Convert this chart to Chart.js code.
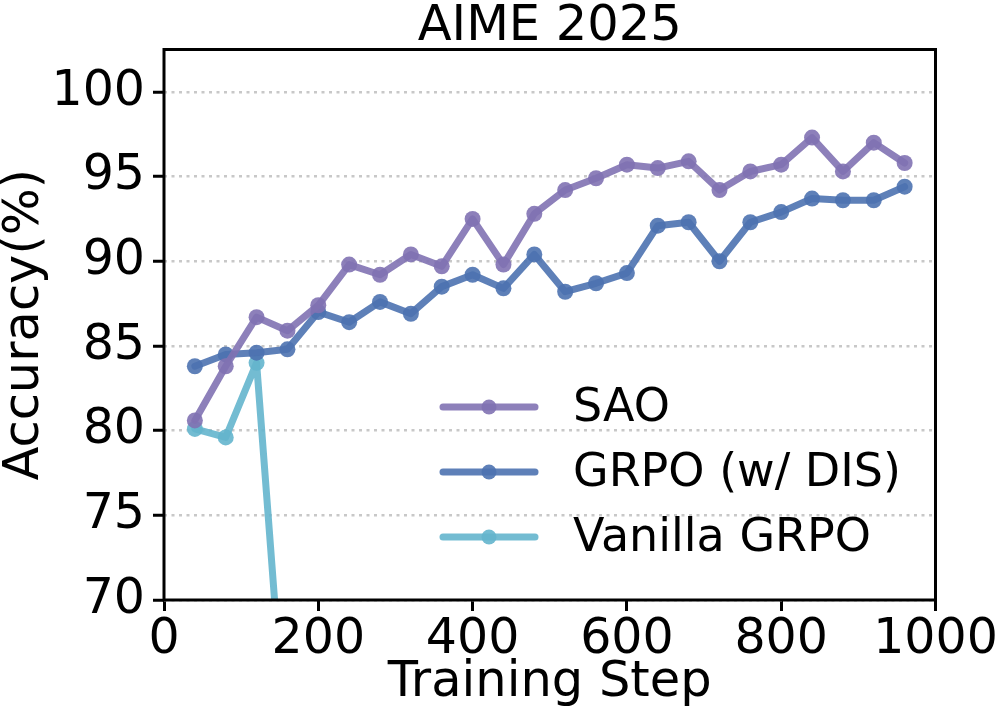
<!DOCTYPE html>
<html>
<head>
<meta charset="utf-8">
<script src="https://cdn.jsdelivr.net/npm/chart.js@4/dist/chart.umd.min.js"></script>
<style>
  html, body { margin: 0; padding: 0; background: #fff; }
  canvas { display: block; }
</style>
</head>
<body>
<canvas id="grafico" width="995" height="713"></canvas>
<script>
// Datos
const pasos = [40, 80, 120, 160, 200, 240, 280, 320, 360, 400, 440, 480,
               520, 560, 600, 640, 680, 720, 760, 800, 840, 880, 920, 960];
const sao = [80.6, 83.8, 86.7, 85.9, 87.4, 89.8, 89.2, 90.4, 89.7, 92.5, 89.8, 92.8,
             94.2, 94.9, 95.7, 95.5, 95.9, 94.2, 95.3, 95.7, 97.3, 95.3, 97.0, 95.8];
const grpoDis = [83.8, 84.5, 84.6, 84.8, 87.0, 86.4, 87.6, 86.9, 88.5, 89.2, 88.4, 90.4,
                 88.2, 88.7, 89.3, 92.1, 92.3, 90.0, 92.3, 92.9, 93.7, 93.6, 93.6, 94.4];
const pasosVanilla = [40, 80, 120, 160];
const vanilla = [80.1, 79.6, 84.0, 60.0];

const etiquetasSeries = ['SAO', 'GRPO (w/ DIS)', 'Vanilla GRPO'];
const colores = ['rgba(129,114,179,0.9)', 'rgba(76,114,176,0.9)', 'rgba(100,181,205,0.9)'];
const ticksY = [70, 75, 80, 85, 90, 95, 100];
const ticksX = [0, 200, 400, 600, 800, 1000];

const fuente = 'DejaVu Sans';

function puntos(xs, ys) {
    return xs.map(function (x, i) { return { x: x, y: ys[i] }; });
}

function serie(nombre, datos, color) {
    return {
        label: nombre,
        data: datos,
        borderColor: color,
        backgroundColor: color,
        borderWidth: 7,
        borderJoinStyle: 'round',
        borderCapStyle: 'round',
        pointRadius: 8,
        pointBorderWidth: 0,
        pointBackgroundColor: color,
        tension: 0
    };
}

// Titulo, marco y leyenda dibujados a mano
const extras = {
    id: 'extras',
    afterDraw: function (chart) {
        const ctx = chart.ctx;
        const a = chart.chartArea;
        ctx.save();

        // marco negro
        ctx.strokeStyle = '#000';
        ctx.lineWidth = 3;
        ctx.strokeRect(a.left, a.top, a.right - a.left, a.bottom - a.top);

        // titulo
        ctx.fillStyle = '#000';
        ctx.font = '49.5px "' + fuente + '"';
        ctx.textAlign = 'center';
        ctx.textBaseline = 'alphabetic';
        ctx.fillText('AIME 2025', (a.left + a.right) / 2, 40);

        // leyenda
        const filas = [407, 472, 537];
        ctx.font = '46px "' + fuente + '"';
        ctx.textAlign = 'left';
        ctx.textBaseline = 'middle';
        chart.data.datasets.forEach(function (ds, i) {
            const y = filas[i];
            ctx.strokeStyle = ds.borderColor;
            ctx.lineWidth = 7;
            ctx.lineCap = 'round';
            ctx.beginPath();
            ctx.moveTo(443, y);
            ctx.lineTo(535, y);
            ctx.stroke();
            ctx.fillStyle = ds.borderColor;
            ctx.beginPath();
            ctx.arc(489, y, 7.5, 0, Math.PI * 2);
            ctx.fill();
            ctx.fillStyle = '#000';
            ctx.fillText(ds.label, 573, y + 2);
        });
        ctx.restore();
    }
};

const ctx = document.getElementById('grafico').getContext('2d');
new Chart(ctx, {
    type: 'line',
    data: {
        datasets: [
            serie(etiquetasSeries[0], puntos(pasos, sao), colores[0]),
            serie(etiquetasSeries[1], puntos(pasos, grpoDis), colores[1]),
            serie(etiquetasSeries[2], puntos(pasosVanilla, vanilla), colores[2])
        ]
    },
    options: {
        responsive: false,
        animation: false,
        layout: { padding: { top: 49.5, right: 59.5, left: 0, bottom: 0 } },
        plugins: {
            legend: { display: false },
            title: { display: false },
            tooltip: { enabled: false }
        },
        scales: {
            x: {
                type: 'linear',
                min: 0,
                max: 1000,
                afterFit: function (scale) {
                    scale.height = 113;
                    scale.paddingLeft = 0;
                    scale.paddingRight = 0;
                },
                afterBuildTicks: function (scale) {
                    scale.ticks = ticksX.map(function (v) { return { value: v }; });
                },
                border: { display: false },
                grid: {
                    drawOnChartArea: false,
                    drawTicks: true,
                    tickLength: 11,
                    tickColor: '#000',
                    tickWidth: 3
                },
                ticks: {
                    color: '#000',
                    font: { family: fuente, size: 49 },
                    padding: 0,
                    maxRotation: 0,
                    callback: function (v) { return String(v); }
                },
                title: {
                    display: true,
                    text: 'Training Step',
                    color: '#000',
                    font: { family: fuente, size: 49.5 },
                    padding: { top: 0, bottom: 0 }
                }
            },
            y: {
                min: 70,
                max: 102.5,
                afterFit: function (scale) {
                    scale.width = 164;
                    scale.paddingTop = 0;
                    scale.paddingBottom = 0;
                },
                afterBuildTicks: function (scale) {
                    scale.ticks = ticksY.map(function (v) { return { value: v }; });
                },
                border: { display: false, dash: [3, 4.5] },
                grid: {
                    color: '#c8c8c8',
                    lineWidth: 2.5,
                    drawTicks: true,
                    tickLength: 11,
                    tickColor: '#000',
                    tickWidth: 3,
                    tickBorderDash: []
                },
                ticks: {
                    color: '#000',
                    font: { family: fuente, size: 49 },
                    padding: 8
                },
                title: {
                    display: true,
                    text: 'Accuracy(%)',
                    color: '#000',
                    font: { family: fuente, size: 49.5, lineHeight: 1 },
                    padding: { top: 0, bottom: 0 }
                }
            }
        }
    },
    plugins: [extras]
});
</script>
</body>
</html>
